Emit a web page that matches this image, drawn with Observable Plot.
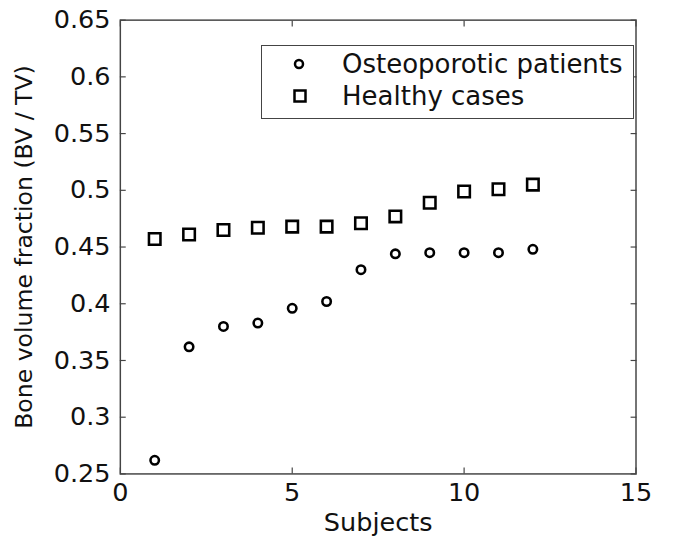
<!DOCTYPE html>
<html>
<head>
<meta charset="utf-8">
<script src="https://cdn.jsdelivr.net/npm/d3@7"></script>
<script src="https://cdn.jsdelivr.net/npm/@observablehq/plot@0.6"></script>
<style>
  html, body { margin: 0; padding: 0; background: #fff; overflow: hidden; }
  #wrap { position: relative; width: 664px; height: 548px; overflow: hidden; background: #fff; }
  #legend { position: absolute; left: 261px; top: 45px; width: 373px; height: 74px; border: 1.5px solid #444; background: #fff;
            font-family: "DejaVu Sans", sans-serif; font-size: 26px; color: #111; box-sizing: border-box; }
  .row { position: absolute; left: 0; display: flex; align-items: center; }
  .row svg { margin-left: 31px; margin-right: 37px; }
  svg text { fill: #111; }
</style>
</head>
<body>
<div id="wrap"></div>
<script>
const subjects = [1, 2, 3, 4, 5, 6, 7, 8, 9, 10, 11, 12];
const osteoporotic = [0.262, 0.362, 0.380, 0.383, 0.396, 0.402, 0.430, 0.444, 0.445, 0.445, 0.445, 0.448];
const healthy = [0.457, 0.461, 0.465, 0.467, 0.468, 0.468, 0.471, 0.477, 0.489, 0.499, 0.501, 0.505];
const seriesNames = ["Osteoporotic patients", "Healthy cases"];
const xTicks = [0, 5, 10, 15];
const yTicks = [0.25, 0.3, 0.35, 0.4, 0.45, 0.5, 0.55, 0.6, 0.65];
const xLabel = "Subjects";
const yLabel = "Bone volume fraction (BV / TV)";

const osteoData = subjects.map((s, i) => ({x: s, y: osteoporotic[i]}));
const healthyData = subjects.map((s, i) => ({x: s, y: healthy[i]}));
const fmt = d => String(+d.toFixed(2));
const axisColor = "#444";

const chart = Plot.plot({
  width: 676,
  height: 548,
  marginLeft: 122,
  marginRight: 29,
  marginTop: 20,
  marginBottom: 66,
  style: {fontFamily: "DejaVu Sans, sans-serif", fontSize: "26px", color: "#111", background: "#fff"},
  x: {domain: [0, 15]},
  y: {domain: [0.25, 0.65]},
  marks: [
    Plot.frame({stroke: axisColor, strokeWidth: 1.5}),
    // inward ticks
    Plot.axisX({anchor: "bottom", ticks: xTicks, tickSize: -6, tickFormat: () => "", stroke: axisColor, strokeWidth: 1.2, label: null}),
    Plot.axisX({anchor: "top", ticks: xTicks, tickSize: -6, tickFormat: () => "", stroke: axisColor, strokeWidth: 1.2, label: null}),
    Plot.axisY({anchor: "left", ticks: yTicks, tickSize: -6, tickFormat: () => "", stroke: axisColor, strokeWidth: 1.2, label: null}),
    Plot.axisY({anchor: "right", ticks: yTicks, tickSize: -6, tickFormat: () => "", stroke: axisColor, strokeWidth: 1.2, label: null}),
    // tick labels
    Plot.axisX({anchor: "bottom", ticks: xTicks, tickSize: 0, tickPadding: 9, tickFormat: fmt, fontSize: 26,
                label: xLabel, labelAnchor: "center", labelOffset: 58, labelArrow: "none"}),
    Plot.axisY({anchor: "left", ticks: yTicks, tickSize: 0, tickPadding: 10, tickFormat: fmt, fontSize: 26, label: null}),
    Plot.axisY({anchor: "left", ticks: [], tickSize: 0, fontSize: 24,
                label: yLabel, labelAnchor: "center", labelOffset: 107, labelArrow: "none"}),
    Plot.dot(osteoData, {x: "x", y: "y", symbol: "circle", r: 4.3, stroke: "#000", strokeWidth: 2.6, fill: "none"}),
    Plot.dot(healthyData, {x: "x", y: "y", symbol: "square", r: 6.6, stroke: "#000", strokeWidth: 2.6, fill: "none"})
  ]
});
document.getElementById("wrap").appendChild(chart);

// legend
const legend = document.createElement("div");
legend.id = "legend";
const symbols = [
  '<svg width="12" height="12"><circle cx="6" cy="6" r="4" fill="none" stroke="#000" stroke-width="2.5"/></svg>',
  '<svg width="14" height="14"><rect x="1.5" y="1.5" width="11" height="11" fill="none" stroke="#000" stroke-width="2.5"/></svg>'
];
seriesNames.forEach((name, i) => {
  const row = document.createElement("div");
  row.className = "row";
  row.style.top = (i === 0 ? 3 : 35) + "px";
  row.innerHTML = symbols[i] + '<span>' + name + '</span>';
  if (i === 1) row.querySelector("svg").style.marginRight = "35px";
  legend.appendChild(row);
});
document.getElementById("wrap").appendChild(legend);
</script>
</body>
</html>
